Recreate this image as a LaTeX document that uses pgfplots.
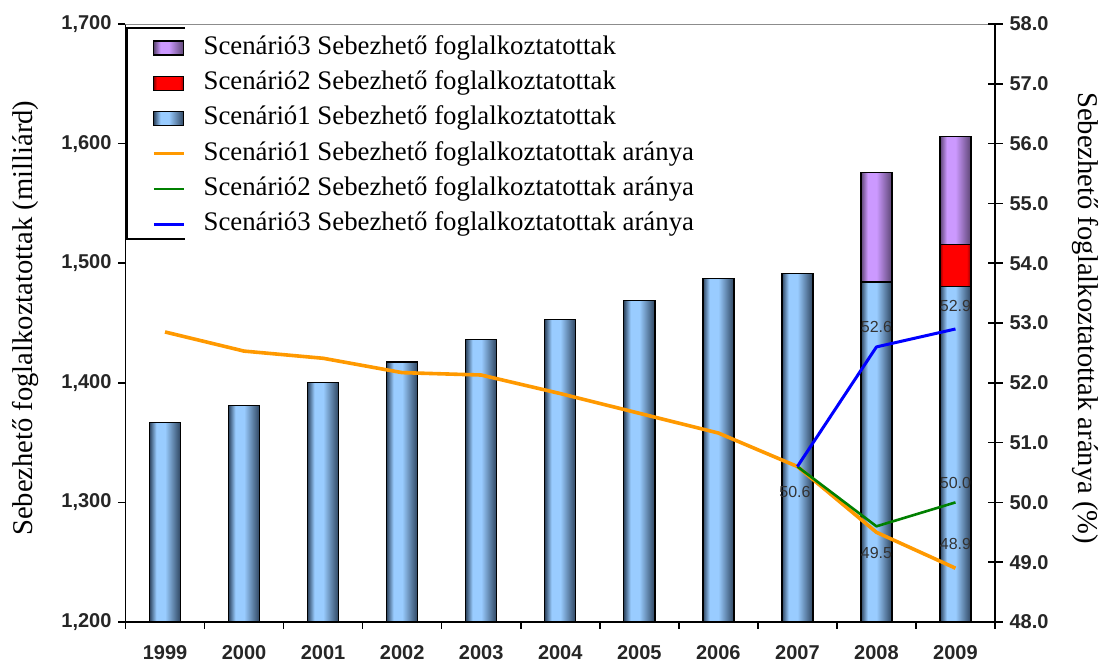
\documentclass[border=0pt]{standalone}
\usepackage{pgfplots}
\pgfplotsset{compat=1.18}
\usepackage{fontspec}
\setmainfont{Liberation Serif}
\setsansfont{Liberation Sans}
\definecolor{barblue}{HTML}{99CCFF}
\definecolor{barbluedark}{HTML}{2E4560}
\definecolor{barpurple}{HTML}{CC99FF}
\definecolor{barpurpledark}{HTML}{5C4573}
\definecolor{barred}{HTML}{FF0000}
\definecolor{barreddark}{HTML}{900000}
\definecolor{lorange}{HTML}{FF9900}
\definecolor{lgreen}{HTML}{008000}
\definecolor{lblue}{HTML}{0000FF}
\pgfdeclarehorizontalshading{bluebar}{100bp}{color(0bp)=(barbluedark); color(25bp)=(barbluedark); color(36bp)=(barblue); color(50bp)=(barblue); color(75bp)=(barbluedark); color(100bp)=(barbluedark)}
\pgfdeclarehorizontalshading{purplebar}{100bp}{color(0bp)=(barpurpledark); color(25bp)=(barpurpledark); color(36bp)=(barpurple); color(50bp)=(barpurple); color(75bp)=(barpurpledark); color(100bp)=(barpurpledark)}
\pgfdeclarehorizontalshading{redbar}{100bp}{color(0bp)=(barreddark); color(25bp)=(barreddark); color(30bp)=(barred); color(68bp)=(barred); color(75bp)=(barreddark); color(100bp)=(barreddark)}
\pgfplotsset{
  sbar/.style={draw=black, line width=0.7pt, shading=bluebar},
  sred/.style={draw=black, line width=0.7pt, shading=redbar},
  spurple/.style={draw=black, line width=0.7pt, shading=purplebar},
}
\begin{document}
\begin{tikzpicture}
\begin{axis}[
  at={(0,0)}, anchor=south west,
  scale only axis, width=434.75pt, height=299pt,
  xmin=-0.5, xmax=10.5, ymin=1200, ymax=1700,
  enlarge x limits=false, enlarge y limits=false,
  ybar, bar width=15.5pt, bar shift=0pt,
  axis x line*=bottom, axis y line*=left,
  every non boxed x axis/.append style={x axis line style=-},
  every non boxed y axis/.append style={y axis line style=-},
  axis line style={line width=0.8pt, black},
  xtick={0,...,10},
  xticklabels={1999,2000,2001,2002,2003,2004,2005,2006,2007,2008,2009},
  major x tick style={draw=none},
  minor xtick={-0.5,0.5,...,10.5},
  ytick={1200,1300,...,1700},
  tick align=outside, major tick length=3.5pt, minor tick length=3.5pt,
  tick style={black, line width=0.8pt},
  tick label style={font=\fontsize{10}{12}\sffamily\bfseries, text=black!85},
  xticklabel style={yshift=-7.5pt, text depth=0pt, inner sep=0.5pt},
  /pgf/number format/assume math mode=true,
  yticklabel style={/pgf/number format/1000 sep={,}},
  scaled y ticks=false,
  ylabel={Sebezhető foglalkoztatottak (milliárd)},
  ylabel style={font=\fontsize{14.3}{17}\selectfont, at={(axis description cs:-0.115,0.508)}, anchor=center},
]
% Scenario 3 (stack top)
\addplot[spurple] coordinates {(9,1575.7)};
\addplot[spurple] coordinates {(10,1605.8)};
% Scenario 2
\addplot[sred] coordinates {(9,1484.6)};
\addplot[sred] coordinates {(10,1515.8)};
% Scenario 1
\addplot[sbar] coordinates {(0,1366.6)};
\addplot[sbar] coordinates {(1,1380.9)};
\addplot[sbar] coordinates {(2,1400.4)};
\addplot[sbar] coordinates {(3,1417.4)};
\addplot[sbar] coordinates {(4,1436.4)};
\addplot[sbar] coordinates {(5,1453.1)};
\addplot[sbar] coordinates {(6,1469.0)};
\addplot[sbar] coordinates {(7,1487.4)};
\addplot[sbar] coordinates {(8,1491.6)};
\addplot[sbar] coordinates {(9,1483.7)};
\addplot[sbar] coordinates {(10,1480.4)};
\draw[black!45, line width=0.6pt] (rel axis cs:0,1) -- (rel axis cs:1,1);
\draw[black, line width=0.8pt] (rel axis cs:0.0684,0.9933) -| (rel axis cs:0.0017,0.6405) -- (rel axis cs:0.0684,0.6405);
\end{axis}
\begin{axis}[
  at={(0,0)}, anchor=south west,
  scale only axis, width=434.75pt, height=299pt,
  xmin=-0.5, xmax=10.5, ymin=48, ymax=58,
  enlarge x limits=false, enlarge y limits=false,
  axis x line=none, axis y line*=right,
  every non boxed y axis/.append style={y axis line style=-},
  axis line style={line width=0.8pt, black},
  ytick={48,49,...,58},
  tick align=center, major tick length=7.5pt,
  tick style={black, line width=0.8pt},
  tick label style={font=\fontsize{10}{12}\sffamily\bfseries, text=black!85},
  /pgf/number format/assume math mode=true,
  yticklabel style={/pgf/number format/.cd, fixed, fixed zerofill, precision=1},
  ylabel={Sebezhető foglalkoztatottak aránya (\%)},
  ylabel style={font=\fontsize{14.3}{17}\selectfont, at={(axis description cs:1.1035,0.508)}, anchor=center, rotate=180},
  legend cell align=left,
  legend image code/.code={\draw[#1] (0pt,0pt) -- (15pt,0pt);},
  legend style={at={(rel axis cs:0.0305,0.984)}, anchor=north west, draw=none, fill=none,
    inner sep=0pt, outer sep=0pt, row sep=3.1pt, column sep=8pt,
    nodes={inner sep=1pt, text height=9.5pt, text depth=3pt},
    font=\fontsize{13.4}{15}\selectfont},
]
\addlegendimage{legend image code/.code={\draw[draw=black, line width=0.6pt, shading=purplebar] (0pt,-3.5pt) rectangle (15pt,3.5pt);}}
\addlegendentry{Scenárió3 Sebezhető foglalkoztatottak}
\addlegendimage{legend image code/.code={\draw[draw=black, line width=0.6pt, shading=redbar] (0pt,-3.5pt) rectangle (15pt,3.5pt);}}
\addlegendentry{Scenárió2 Sebezhető foglalkoztatottak}
\addlegendimage{legend image code/.code={\draw[draw=black, line width=0.6pt, shading=bluebar] (0pt,-3.5pt) rectangle (15pt,3.5pt);}}
\addlegendentry{Scenárió1 Sebezhető foglalkoztatottak}
\addplot[lorange, line width=1.8pt, line join=round, mark=none] coordinates {
(0,52.85) (1,52.53) (2,52.41) (3,52.17) (4,52.13) (5,51.82) (6,51.49) (7,51.16) (8,50.6) (9,49.5) (10,48.9)};
\addlegendentry{Scenárió1 Sebezhető foglalkoztatottak aránya}
\addplot[lgreen, line width=1.3pt, line join=round, mark=none] coordinates {(8,50.6) (9,49.6) (10,50.0)};
\addlegendentry{Scenárió2 Sebezhető foglalkoztatottak aránya}
\addplot[lblue, line width=1.5pt, line join=round, mark=none] coordinates {(8,50.6) (9,52.6) (10,52.9)};
\addlegendentry{Scenárió3 Sebezhető foglalkoztatottak aránya}
\begin{scope}[every node/.style={font=\fontsize{8}{9}\sffamily, text=black!80, inner sep=0pt}]
\node at (axis cs:7.97,50.18) {50.6};
\node at (axis cs:9,49.15) {49.5};
\node at (axis cs:10,49.30) {48.9};
\node at (axis cs:10,50.32) {50.0};
\node at (axis cs:9,52.93) {52.6};
\node at (axis cs:10,53.29) {52.9};
\end{scope}
\end{axis}
\pgfresetboundingbox
\useasboundingbox (-62.75pt,-21pt) rectangle (488.75pt,311pt);
\end{tikzpicture}
\end{document}
